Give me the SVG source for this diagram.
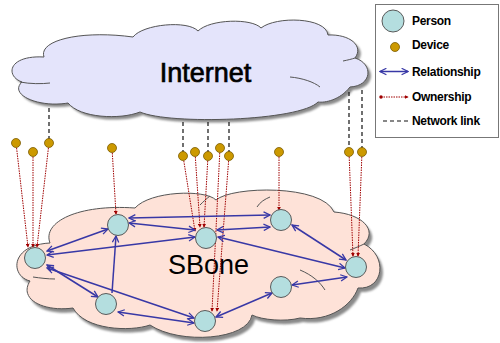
<svg xmlns="http://www.w3.org/2000/svg" width="500" height="343" viewBox="0 0 500 343">
<defs>
<style>
.cloud{stroke:#555;stroke-width:1}
.shadow{fill:#8a8a8a;stroke:none}
.fold{fill:none;stroke:#555;stroke-width:1}
.person{fill:#B4DEDF;stroke:#5a5a5a;stroke-width:1}
.device{fill:#CC9900;stroke:#7a5a00;stroke-width:0.8}
.rel{stroke:#3838A6;stroke-width:1.5;fill:none;marker-end:url(#ah);}
.rel2{marker-start:url(#ah)}
.own{stroke:#A00000;stroke-width:1;stroke-dasharray:1.5 1;fill:none;marker-end:url(#oh)}
.net{stroke:#111;stroke-width:1.2;stroke-dasharray:4 3;fill:none}
.big{font-family:"Liberation Sans",Arial,sans-serif;font-size:27px;fill:#000}
.leg{font-family:"Liberation Sans",Arial,sans-serif;font-size:12px;font-weight:bold;letter-spacing:-0.3px;fill:#000}
</style>
<marker id="ah" viewBox="0 0 10 10" refX="9" refY="5" markerWidth="8" markerHeight="8" markerUnits="userSpaceOnUse" orient="auto-start-reverse">
<path d="M1,1 L9,5 L1,9" fill="none" stroke="#3838A6" stroke-width="1.6"/>
</marker>
<marker id="oh" viewBox="0 0 6 6" refX="5" refY="3" markerWidth="4" markerHeight="4" markerUnits="userSpaceOnUse" orient="auto">
<path d="M0,0 L6,3 L0,6 z" fill="#A00000"/>
</marker>
<marker id="od" viewBox="0 0 4 4" refX="2" refY="2" markerWidth="3.5" markerHeight="3.5" markerUnits="userSpaceOnUse">
<circle cx="2" cy="2" r="2" fill="#A00000"/>
</marker>
<path id="inetPath" d="M44,57 C38,40 82,30 133,37 C143,24 188,20 198,31 C210,19 252,18 261,28 C276,16 326,17 328,35 C350,34 364,46 355,58 C374,64 372,86 350,87 C340,100 325,103 318,102 C300,121 170,125 140,112 C120,120 80,118 68,103 C40,108 8,95 22,82 C5,76 8,55 44,57 Z"/>
<path id="sbonePath" d="M50,243 C42,222 78,204 135,208 C150,191 205,189 216,200 C232,186 322,184 334,212 C362,214 378,230 364,244 C388,256 384,290 358,288 C352,305 330,322 300,318 C285,322 262,320 252,315 C248,340 180,345 150,325 C130,332 85,330 73,308 C45,312 18,300 30,281 C10,276 10,245 50,243 Z"/>
<filter id="blur" x="-5%" y="-5%" width="110%" height="110%"><feGaussianBlur stdDeviation="0.8"/></filter>
</defs>
<rect width="500" height="343" fill="#fff"/>

<g id="internet">
<use href="#inetPath" class="shadow" transform="translate(3,3)" filter="url(#blur)"/>
<use href="#inetPath" class="cloud" fill="#E4E4FB"/>
<path class="fold" d="M20,82 C30,84 42,84 50,83"/>
<path class="fold" d="M290,77 C302,78 314,82 320,87"/>
<path class="fold" d="M343,61 C348,60 352,59 355,58"/>
<text class="big" x="205.5" y="82" text-anchor="middle" stroke="#000" stroke-width="0.7">Internet</text>
</g>

<g id="sbone">
<use href="#sbonePath" class="shadow" transform="translate(3,4)" filter="url(#blur)"/>
<use href="#sbonePath" class="cloud" fill="#FEE2D8"/>
<path class="fold" d="M33,277 C40,278 48,279 55,279"/>
<path class="fold" d="M300,270 C312,275 320,282 325,290"/>
<path class="fold" d="M350,250 C355,248 360,246 364,244"/>
<path class="fold" d="M257,207 C260,202 265,199 270,197"/>
<path class="fold" d="M200,205 C203,202 206,199 210,196"/>
<text class="big" x="208.5" y="274" text-anchor="middle">SBone</text>
</g>

<g id="connectors">
<path class="net" d="M49,108 V139"/>
<path class="net" d="M183,122 V152"/>
<path class="net" d="M208,122 V152"/>
<path class="net" d="M229,122 V152"/>
<path class="net" d="M349,92 V148"/>
<path class="net" d="M362,90 V148"/>

<path class="own" d="M16,143 L28,247"/>
<path class="own" d="M33,152 L33,247"/>
<path class="own" d="M49,143 L37,247"/>
<path class="own" d="M112,148 L116,214"/>
<path class="own" d="M183,156 L195,231"/>
<path class="own" d="M195,152 L200,227"/>
<path class="own" d="M208,156 L204,227"/>
<path class="own" d="M220,148 L212,311"/>
<path class="own" d="M229,156 L217,311"/>
<path class="own" d="M279,152 L279,210"/>
<path class="own" d="M349,152 L353,256"/>
<path class="own" d="M362,152 L358,256"/>

<path class="rel rel2" d="M47,251 L108,229"/>
<path class="rel rel2" d="M47,255 L195,237"/>
<path class="rel rel2" d="M47,265 L98,297"/>
<path class="rel rel2" d="M47,268 L194,318"/>
<path class="rel rel2" d="M129,223 L195,230"/>
<path class="rel rel2" d="M129,218 L270,215"/>
<path class="rel rel2" d="M217,230 L270,227"/>
<path class="rel rel2" d="M218,237 L345,268"/>
<path class="rel rel2" d="M292,225 L346,260"/>
<path class="rel rel2" d="M292,285 L347,277"/>
<path class="rel rel2" d="M216,317 L272,293"/>
<path class="rel rel2" d="M118,312 L194,323"/>
<path class="rel" d="M112,293 L116,236"/>
</g>

<g id="person1"><circle class="person" cx="35" cy="258" r="10.5"/></g>
<g id="person2"><circle class="person" cx="118" cy="225" r="10.5"/></g>
<g id="person3"><circle class="person" cx="206" cy="238" r="10.5"/></g>
<g id="person4"><circle class="person" cx="106" cy="304" r="10.5"/></g>
<g id="person5"><circle class="person" cx="205" cy="321" r="10.5"/></g>
<g id="person6"><circle class="person" cx="281" cy="220" r="10.5"/></g>
<g id="person7"><circle class="person" cx="356" cy="267" r="10.5"/></g>
<g id="person8"><circle class="person" cx="281" cy="287" r="10.5"/></g>

<g id="device1"><circle class="device" cx="16" cy="143" r="4.5"/></g>
<g id="device2"><circle class="device" cx="33" cy="152" r="4.5"/></g>
<g id="device3"><circle class="device" cx="49" cy="143" r="4.5"/></g>
<g id="device4"><circle class="device" cx="112" cy="148" r="4.5"/></g>
<g id="device5"><circle class="device" cx="183" cy="156" r="4.5"/></g>
<g id="device6"><circle class="device" cx="195" cy="152" r="4.5"/></g>
<g id="device7"><circle class="device" cx="208" cy="156" r="4.5"/></g>
<g id="device8"><circle class="device" cx="220" cy="148" r="4.5"/></g>
<g id="device9"><circle class="device" cx="229" cy="156" r="4.5"/></g>
<g id="device10"><circle class="device" cx="279" cy="152" r="4.5"/></g>
<g id="device11"><circle class="device" cx="349" cy="152" r="4.5"/></g>
<g id="device12"><circle class="device" cx="362" cy="152" r="4.5"/></g>

<g id="legend">
<rect x="375.5" y="4.5" width="123" height="133" fill="#fff" stroke="#777" stroke-width="1"/>
<circle class="person" cx="393" cy="21" r="11"/>
<text class="leg" x="412" y="25">Person</text>
<circle class="device" cx="395" cy="47" r="4.5"/>
<text class="leg" x="412" y="49">Device</text>
<path class="rel rel2" d="M380,71.5 L408,71.5"/>
<text class="leg" x="412" y="76">Relationship</text>
<path class="own" d="M381,97 L408,97" marker-start="url(#od)"/>
<text class="leg" x="412" y="101">Ownership</text>
<path class="net" d="M383,121 L408,121"/>
<text class="leg" x="412" y="125">Network link</text>
</g>
</svg>
